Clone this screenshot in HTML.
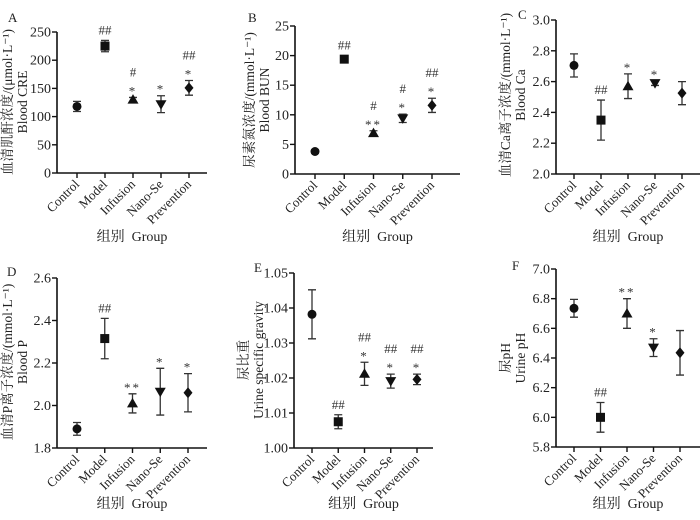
<!DOCTYPE html>
<html><head><meta charset="utf-8">
<style>
html,body{margin:0;padding:0;background:#fff;}
svg, svg text{font-family:"Liberation Serif","Noto Serif CJK SC",serif;}
</style></head>
<body>
<svg id="fig" width="700" height="515" viewBox="0 0 700 515" xmlns="http://www.w3.org/2000/svg" font-family="Liberation Serif, Noto Serif CJK SC, serif"></svg>
<script>
const categories = ["Control","Model","Infusion","Nano-Se","Prevention"];
const meansA = [118,225,130,122,151];
const errA = [9,10,4,15,13];
const annA = ["","##","#|*","*","##|*"];
const ticksA = [0,50,100,150,200,250];
const meansB = [3.8,19.4,6.9,9.4,11.6];
const errB = [0.3,0.6,0.4,0.7,1.2];
const annB = ["","##","#|**","#|*","##|*"];
const ticksB = [0,5,10,15,20,25];
const meansC = [2.705,2.35,2.57,2.59,2.525];
const errC = [0.075,0.13,0.08,0.015,0.075];
const annC = ["","##","*","*",""];
const ticksC = [2.0,2.2,2.4,2.6,2.8,3.0];
const meansD = [1.89,2.315,2.01,2.065,2.06];
const errD = [0.03,0.095,0.045,0.11,0.09];
const annD = ["","##","**","*","*"];
const ticksD = [1.8,2.0,2.2,2.4,2.6];
const meansE = [1.0382,1.0075,1.0212,1.0191,1.0196];
const errE = [0.007,0.002,0.0033,0.002,0.0015];
const annE = ["","##","##|*","##|*","##|*"];
const ticksE = [1.00,1.01,1.02,1.03,1.04,1.05];
const meansF = [6.735,6.0,6.7,6.47,6.435];
const errF = [0.06,0.1,0.1,0.06,0.15];
const annF = ["","##","**","*",""];
const ticksF = [5.8,6.0,6.2,6.4,6.6,6.8,7.0];

const NS="http://www.w3.org/2000/svg";
const svg=document.getElementById('fig');
const FF='Liberation Serif, Noto Serif CJK SC, serif';
function mk(tag,attrs,parent,text){const e=document.createElementNS(NS,tag);for(const k in attrs)e.setAttribute(k,attrs[k]);if(tag==='text')e.setAttribute('font-family',FF);if(text!==undefined)e.textContent=text;parent.appendChild(e);return e;}

const panels=[
 {id:'a',letter:'A',lx:8,ly:22,ax:57,x0:77,x1:189,xend:207,yTop:32,yBot:173,ticks:ticksA,dec:0,means:meansA,err:errA,ann:annA,t1:'血清肌酐浓度/(μmol·L⁻¹)',t2:'Blood CRE',tx:12,ty:102,gy:241},
 {id:'b',letter:'B',lx:248,ly:22,ax:295,x0:315,x1:432,xend:460,yTop:26,yBot:174,ticks:ticksB,dec:0,means:meansB,err:errB,ann:annB,t1:'尿素氮浓度/(mmol·L⁻¹)',t2:'Blood BUN',tx:254,ty:100,gy:241},
 {id:'c',letter:'C',lx:518,ly:19,ax:556,x0:574,x1:682,xend:700,yTop:20,yBot:174,ticks:ticksC,dec:1,means:meansC,err:errC,ann:annC,t1:'血清Ca离子浓度/(mmol·L⁻¹)',t2:'Blood Ca',tx:510,ty:95,gy:241},
 {id:'d',letter:'D',lx:7,ly:276,ax:57,x0:77,x1:188,xend:207,yTop:278,yBot:448,ticks:ticksD,dec:1,means:meansD,err:errD,ann:annD,t1:'血清P离子浓度/(mmol·L⁻¹)',t2:'Blood P',tx:12,ty:362,gy:508},
 {id:'e',letter:'E',lx:254,ly:272,ax:294,x0:312,x1:417,xend:433,yTop:273,yBot:448,ticks:ticksE,dec:2,means:meansE,err:errE,ann:annE,t1:'尿比重',t2:'Urine specific gravity',tx:248,ty:360,gy:508},
 {id:'f',letter:'F',lx:512,ly:270,ax:556,x0:574,x1:680,xend:700,yTop:269,yBot:447,ticks:ticksF,dec:1,means:meansF,err:errF,ann:annF,t1:'尿pH',t2:'Urine pH',tx:510,ty:358,gy:508}
];

function marker(g,i,cx,cy){
 let el;
 if(i===0) el=mk('circle',{cx:cx,cy:cy,r:4.5,fill:'#111'},g);
 else if(i===1) el=mk('rect',{x:cx-4.5,y:cy-4.5,width:9,height:9,fill:'#111'},g);
 else if(i===2) el=mk('polygon',{points:`${cx},${cy-5.5} ${cx+5.5},${cy+4} ${cx-5.5},${cy+4}`,fill:'#111'},g);
 else if(i===3) el=mk('polygon',{points:`${cx-5.5},${cy-4} ${cx+5.5},${cy-4} ${cx},${cy+5.5}`,fill:'#111'},g);
 else el=mk('polygon',{points:`${cx},${cy-5.5} ${cx+4.5},${cy} ${cx},${cy+5.5} ${cx-4.5},${cy}`,fill:'#111'},g);
 
 
}

panels.forEach(p=>{
 const g=mk('g',{},svg);
 
 
 const tmin=p.ticks[0],tmax=p.ticks[p.ticks.length-1];
 const ys=v=>p.yBot-(v-tmin)/(tmax-tmin)*(p.yBot-p.yTop);
 const xs=i=>p.x0+i*(p.x1-p.x0)/(categories.length-1);
 const L=mk('text',{x:p.lx,y:p.ly,'font-size':13,fill:'#222'},g,p.letter);
 
 const ya=mk('line',{x1:p.ax,y1:p.yTop,x2:p.ax,y2:p.yBot,stroke:'#111','stroke-width':1.6},g);
 
 const xa=mk('line',{x1:p.ax,y1:p.yBot,x2:p.xend,y2:p.yBot,stroke:'#111','stroke-width':1.6},g);
 
 p.ticks.forEach(t=>{
  const y=ys(t);
  mk('line',{x1:p.ax-5,y1:y,x2:p.ax,y2:y,stroke:'#111','stroke-width':1.4},g);
  const tl=mk('text',{x:p.ax-6,y:y+4.5,'font-size':14,'text-anchor':'end',fill:'#222'},g,t.toFixed(p.dec));
  
 });
 categories.forEach((c,i)=>{
  const x=xs(i);
  mk('line',{x1:x,y1:p.yBot,x2:x,y2:p.yBot+5,stroke:'#111','stroke-width':1.4},g);
  const tl=mk('text',{x:0,y:0,'font-size':13,'text-anchor':'end',fill:'#222',transform:`translate(${x+3},${p.yBot+12}) rotate(-45)`},g,c);
  
  const m=p.means[i],e=p.err[i];
  const yt=ys(m+e),yb=ys(m-e),ym=ys(m);
  const eb=mk('path',{d:`M${x},${yt}V${yb}M${x-4},${yt}H${x+4}M${x-4},${yb}H${x+4}`,stroke:'#333','stroke-width':1.3,fill:'none'},g);
  
  marker(g,i,x,ym);
  if(p.ann[i]){
   const lines=p.ann[i].split('|').reverse();
   lines.forEach((s,k)=>{
    const isStar=s.indexOf('*')>=0;
    const an=mk('text',{x:x,y:yt-6-k*15+(isStar?4:0),'font-size':13,'text-anchor':'middle',fill:'#333','letter-spacing':isStar?'2':'0'},g,s);
    
   });
  }
 });
 const t=mk('text',{'font-size':13.5,'text-anchor':'middle',fill:'#222',transform:`translate(${p.tx},${p.ty}) rotate(-90)`},g);
 
 mk('tspan',{x:0,y:0},t,p.t1);
 mk('tspan',{x:0,y:15},t,p.t2);
 const gx=(p.ax+p.xend)/2;
 const gt=mk('text',{x:gx,y:p.gy,'font-size':14,'text-anchor':'middle',fill:'#222'},g,'组别  Group');
 
 gt.setAttribute('xml:space','preserve');gt.style.whiteSpace='pre';
});
</script>
</body></html>
